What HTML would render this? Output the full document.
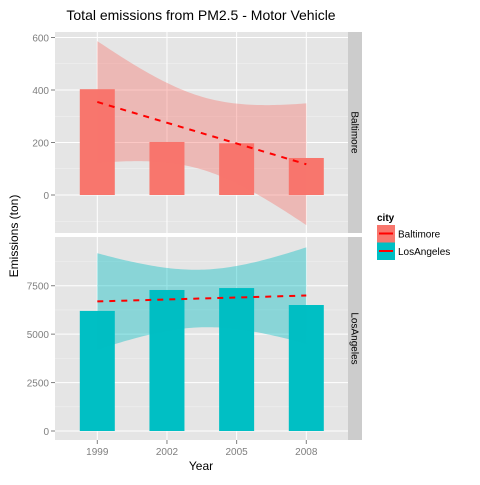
<!DOCTYPE html>
<html><head><meta charset="utf-8"><style>
body{margin:0;background:#fff;font-family:"Liberation Sans",sans-serif}
svg text{font-family:"Liberation Sans",sans-serif}
</style></head><body>
<svg id="c" width="480" height="480" xmlns="http://www.w3.org/2000/svg"></svg>
<script>
const years=[1999,2002,2005,2008];
const baltimore=[403,202,197,141];
const losAngeles=[6200,7280,7380,6505];
const topTicks=[0,200,400,600];
const topMinor=[-100,100,300,500];
const botTicks=[0,2500,5000,7500];
const botMinor=[1250,3750,6250,8750];
const xTicks=[1999,2002,2005,2008];
const NS="http://www.w3.org/2000/svg";
const svg=document.getElementById('c');
function el(t,a,p){const e=document.createElementNS(NS,t);for(const k in a)e.setAttribute(k,a[k]);(p||svg).appendChild(e);return e;}
const X0=55,X1=348;
const xs=y=>97.3+(y-1999)*(306.3-97.3)/9;
function fit(vals){const n=vals.length;const mx=years.reduce((a,b)=>a+b)/n,my=vals.reduce((a,b)=>a+b)/n;
 let sxx=0,sxy=0;years.forEach((x,i)=>{sxx+=(x-mx)**2;sxy+=(x-mx)*(vals[i]-my);});
 const b=sxy/sxx,a=my-b*mx;let sse=0;years.forEach((x,i)=>{sse+=(vals[i]-a-b*x)**2;});
 const s=Math.sqrt(sse/(n-2));const t=4.303;
 return {f:x=>a+b*x,se:x=>t*s*Math.sqrt(1/n+(x-mx)**2/sxx)};}
function panel(name,top,bot,ys,vals,ticks,minor,color,band,strip){
 const g=el('g',{});
 el('rect',{x:X0,y:top,width:X1-X0,height:bot-top,fill:'#e5e5e5'},g);
 minor.forEach(v=>el('line',{x1:X0,x2:X1,y1:ys(v),y2:ys(v),stroke:'#f2f2f2','stroke-width':0.5},g));
 ticks.forEach(v=>{el('line',{x1:X0,x2:X1,y1:ys(v),y2:ys(v),stroke:'#fff','stroke-width':1},g);
  el('line',{x1:X0-4,x2:X0,y1:ys(v),y2:ys(v),stroke:'#7f7f7f'},g);
  const t=el('text',{x:X0-6,y:ys(v)+4,'text-anchor':'end','font-size':10,fill:'#7f7f7f'},g);t.textContent=v;
  });
 xTicks.forEach(v=>el('line',{x1:xs(v),x2:xs(v),y1:top,y2:bot,stroke:'#fff'},g));
 const F=fit(vals);let up=[],lo=[];
 for(let i=0;i<=80;i++){const x=1999+9*i/80;up.push(xs(x)+','+ys(F.f(x)+F.se(x)));lo.unshift(xs(x)+','+ys(F.f(x)-F.se(x)));}
 vals.forEach((v,i)=>{const r=el('rect',{x:xs(years[i])-17.5,y:ys(v),width:35,height:ys(0)-ys(v),fill:color},g);
  });
 const p=el('polygon',{points:up.concat(lo).join(' '),fill:band,'fill-opacity':0.4},g);
 
 const l=el('line',{x1:xs(1999),x2:xs(2008),y1:ys(F.f(1999)),y2:ys(F.f(2008)),stroke:'#ff0000','stroke-width':2,'stroke-dasharray':'6,6'},g);
 
 const sr=el('rect',{x:348,y:top,width:14,height:bot-top,fill:'#cccccc'},g);
 
 const st=el('text',{x:0,y:0,'font-size':10,'text-anchor':'middle',transform:`translate(351.5,${(top+bot)/2}) rotate(90)`},g);st.textContent=strip;
 
}
panel('baltimore',32,233,v=>195-v*0.2625,baltimore,topTicks,topMinor,'#F8766D','#F8766D','Baltimore');
panel('losangeles',237,440,v=>431-v*0.01937,losAngeles,botTicks,botMinor,'#00BFC4','#00BFC4','LosAngeles');
xTicks.forEach(v=>{el('line',{x1:xs(v),x2:xs(v),y1:440,y2:444,stroke:'#7f7f7f'});
 const t=el('text',{x:xs(v),y:455,'text-anchor':'middle','font-size':10,fill:'#7f7f7f'});t.textContent=v;
 });
let t=el('text',{x:201,y:470,'text-anchor':'middle','font-size':12});t.textContent='Year';

t=el('text',{x:0,y:0,'text-anchor':'middle','font-size':12,transform:'translate(18,236) rotate(-90)'});t.textContent='Emissions (ton)';

t=el('text',{x:201,y:20,'text-anchor':'middle','font-size':14});t.textContent='Total emissions from PM2.5 - Motor Vehicle';

t=el('text',{x:377,y:221,'font-size':10,'font-weight':'bold'});t.textContent='city';

[['Baltimore','#F8766D'],['LosAngeles','#00BFC4']].forEach((d,i)=>{
 const g=el('g',{});
 const y=225+i*17.5;el('rect',{x:377,y:y,width:18,height:17.5,fill:d[1]},g);
 el('line',{x1:379,x2:393,y1:y+8.5,y2:y+8.5,stroke:'#ff0000','stroke-width':2},g);
 const tt=el('text',{x:398,y:y+12.5,'font-size':10},g);tt.textContent=d[0];});
</script>
</body></html>
